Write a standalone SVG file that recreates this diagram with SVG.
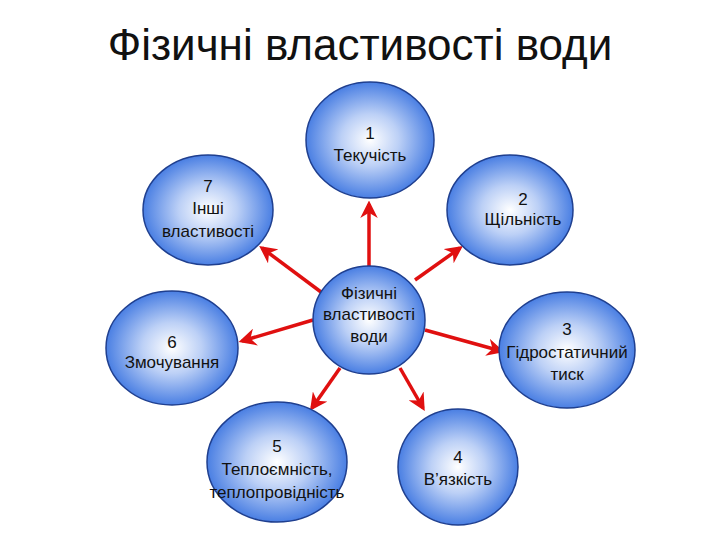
<svg xmlns="http://www.w3.org/2000/svg" width="720" height="540" viewBox="0 0 720 540">
<style>
.n{fill:url(#g);stroke:#1f3f8f;stroke-width:1.5}
.t{font-family:"Liberation Sans",Arial,sans-serif;font-size:17px;fill:#111;text-anchor:middle}
.c line{stroke:#e01010;stroke-width:3.5;marker-end:url(#a)}
</style>
<defs>
<radialGradient id="g" cx="0.5" cy="0.5" r="0.5">
<stop offset="0" stop-color="#ffffff"/>
<stop offset="0.45" stop-color="#bcd0f6"/>
<stop offset="1" stop-color="#4a7fe3"/>
</radialGradient>
<marker id="a" viewBox="0 0 10 10" refX="8" refY="5" markerWidth="5" markerHeight="5" orient="auto" markerUnits="strokeWidth">
<path d="M0,0 L10,5 L0,10 L3,5 Z" fill="#e01010"/>
</marker>
</defs>
<rect width="720" height="540" fill="#fff"/>
<text x="360" y="60" font-family="'Liberation Sans',Arial,sans-serif" font-size="44" fill="#111" text-anchor="middle">Фізичні властивості води</text>
<g class="c" id="connectors">
<line x1="369" y1="267" x2="369" y2="204"/>
<line x1="415" y1="280" x2="460" y2="248"/>
<line x1="425" y1="330" x2="501" y2="351"/>
<line x1="400" y1="368" x2="423" y2="408"/>
<line x1="340" y1="368" x2="312" y2="408"/>
<line x1="313" y1="320" x2="242" y2="341"/>
<line x1="321" y1="292" x2="262" y2="248"/>
</g>
<g id="n1"><ellipse class="n" cx="370" cy="140" rx="64" ry="58"/><text class="t" x="370" y="139">1</text><text class="t" x="370" y="161">Текучість</text></g>
<g id="n2"><ellipse class="n" cx="510" cy="210" rx="63" ry="55"/><text class="t" x="523" y="205">2</text><text class="t" x="523" y="225">Щільність</text></g>
<g id="n3"><ellipse class="n" cx="567" cy="350" rx="68" ry="58"/><text class="t" x="567" y="335">3</text><text class="t" x="567" y="358">Гідростатичний</text><text class="t" x="567" y="380">тиск</text></g>
<g id="n4"><ellipse class="n" cx="458" cy="467" rx="60" ry="58"/><text class="t" x="458" y="463">4</text><text class="t" x="458" y="485">В’язкість</text></g>
<g id="n5"><ellipse class="n" cx="277" cy="462" rx="70" ry="60"/><text class="t" x="277" y="452">5</text><text class="t" x="277" y="475">Теплоємність,</text><text class="t" x="277" y="498">теплопровідність</text></g>
<g id="n6"><ellipse class="n" cx="172" cy="348" rx="66" ry="57"/><text class="t" x="172" y="348">6</text><text class="t" x="172" y="368">Змочування</text></g>
<g id="n7"><ellipse class="n" cx="208" cy="210" rx="65" ry="55"/><text class="t" x="208" y="192">7</text><text class="t" x="208" y="214">Інші</text><text class="t" x="208" y="237">властивості</text></g>
<g id="center"><ellipse class="n" cx="369" cy="320" rx="56" ry="54"/><text class="t" x="369" y="299">Фізичні</text><text class="t" x="369" y="320">властивості</text><text class="t" x="369" y="342">води</text></g>
</svg>
